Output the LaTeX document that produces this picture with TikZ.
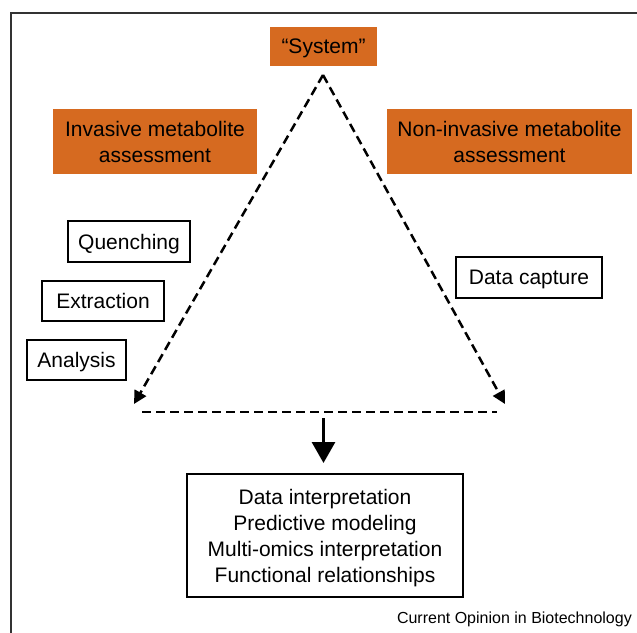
\documentclass[tikz,border=0pt]{standalone}
\usepackage{fontspec}
\setmainfont{Liberation Sans}
\usetikzlibrary{arrows.meta,positioning}
\definecolor{sysorange}{RGB}{214,106,32}

\begin{document}
\begin{tikzpicture}[
    x=1pt, y=-1pt,
    orangebox/.style={fill=sysorange, inner sep=0pt, align=center,
      text depth=0pt, font=\fontsize{21}{26}\selectfont},
    stepbox/.style={draw, line width=2pt, inner sep=0pt, align=center,
      text depth=0pt, font=\fontsize{21}{26}\selectfont},
    darr/.style={line width=2.5pt, dash pattern=on 9pt off 5pt,
      -{Triangle[length=13pt, width=13pt]}},
    arr/.style={line width=3pt, -{Triangle[length=21pt, width=23pt]}},
  ]

  \useasboundingbox (0,0) rectangle (637,632);
  \clip (0,0) rectangle (637,632);

  % Outer frame (only top and left edges fall inside the page)
  \draw[black!80, line width=1.5pt] (11,640) -- (11,13) -- (645,13);

  % Top: the system and the two ways of looking at it
  \node[orangebox, minimum width=107pt, minimum height=39pt]
    (sys) at (323.5,46.5) {``System''};
  \node[orangebox, minimum width=204pt, minimum height=65pt]
    (inv) at (155,141.5) {Invasive metabolite\\assessment};
  \node[orangebox, minimum width=245pt, minimum height=65pt]
    (noninv) at (509.5,141.5) {Non-invasive metabolite\\assessment};

  % Workflow steps
  \node[stepbox, minimum width=122pt, minimum height=41pt]
    (quench) at (129,241.5) {Quenching};
  \node[stepbox, minimum width=122pt, minimum height=40pt]
    (extract) at (103,301) {Extraction};
  \node[stepbox, minimum width=99pt, minimum height=40pt]
    (analysis) at (76.5,360) {Analysis};
  \node[stepbox, minimum width=146pt, minimum height=41pt]
    (capture) at (529,277.5) {Data capture};

  % Dashed triangle
  \coordinate (apex) at (323,75);
  \coordinate (tipL) at (134,404);
  \coordinate (tipR) at (505,404);
  \coordinate (baseL) at (142,412);
  \coordinate (baseR) at (497,412);
  \coordinate (baseM) at (323.5,418);

  \draw[darr] (apex) -- (tipL);
  \draw[darr] (apex) -- (tipR);
  \draw[line width=2.5pt, dash pattern=on 9pt off 5pt] (baseL) -- (baseR);

  % Outcome
  \node[stepbox, minimum width=276pt, minimum height=123pt]
    (out) at (325,535.5)
    {Data interpretation\\Predictive modeling\\Multi-omics interpretation\\
     Functional relationships};
  \draw[arr, shorten >=10pt] (baseM) -- (baseM |- out.north);

  \node[font=\fontsize{16}{19}\selectfont, inner sep=0pt, anchor=base east]
    (credit) at (632,623) {Current Opinion in Biotechnology};

\end{tikzpicture}
\end{document}
